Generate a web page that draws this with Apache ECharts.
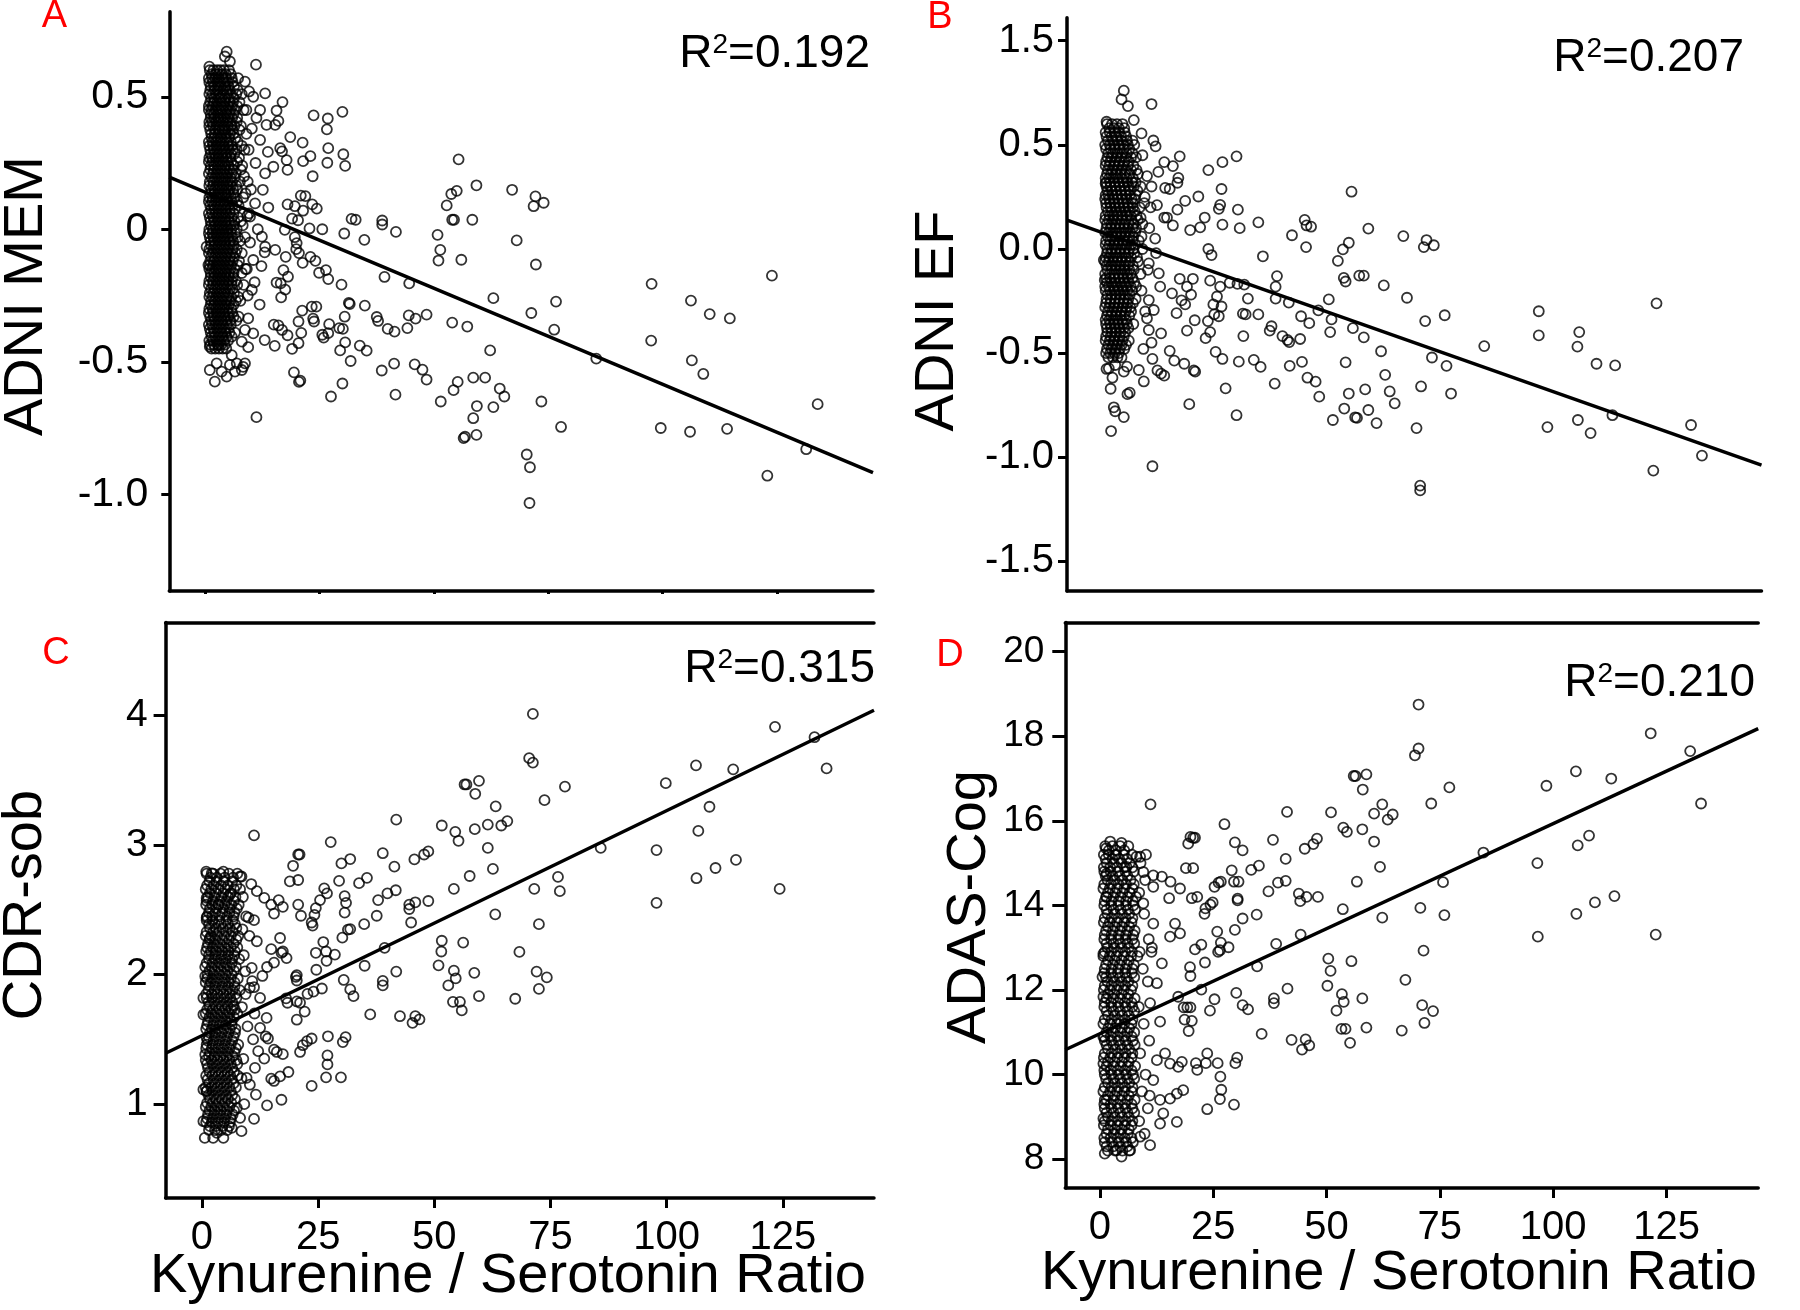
<!DOCTYPE html>
<html><head><meta charset="utf-8">
<script src="https://cdn.jsdelivr.net/npm/echarts@6/dist/echarts.min.js"></script>
<style>html,body{margin:0;padding:0;background:#fff}#c{width:1800px;height:1310px}</style>
</head><body><div id="c"></div>
<script>
// ---------------- DATA ----------------
const xTickVals = [0, 25, 50, 75, 100, 125];
const xTickLabels = ['0', '25', '50', '75', '100', '125'];
const aTickVals = [-1.0, -0.5, 0, 0.5];
const aTickLabels = ['-1.0', '-0.5', '0', '0.5'];
const bTickVals = [-1.5, -1.0, -0.5, 0, 0.5, 1.0];
const bTickLabels = ['-1.5', '-1.0', '-0.5', '0.0', '0.5', '1.5'];
const cTickVals = [1, 2, 3, 4];
const cTickLabels = ['1', '2', '3', '4'];
const dTickVals = [8, 10, 12, 14, 16, 18, 20];
const dTickLabels = ['8', '10', '12', '14', '16', '18', '20'];

const panelLetters = ['A', 'B', 'C', 'D'];
const yTitles = ['ADNI MEM', 'ADNI EF', 'CDR-sob', 'ADAS-Cog'];
const xTitle = 'Kynurenine / Serotonin Ratio';
const r2Values = ['0.192', '0.207', '0.315', '0.210'];

// axis ranges [min, max]
const aXRange = [-7.85, 146.0], aYRange = [-1.365, 0.821];
const bXRange = [-7.6, 145.2], bYRange = [-1.642, 1.11];
const cXRange = [-7.83, 144.6], cYRange = [0.275, 4.72];
const dXRange = [-7.6, 145.2], dYRange = [7.317, 20.69];

// regression lines (end points in data units)
const aFit = [[-7.85, 0.197], [146.0, -0.918]];
const bFit = [[-7.6, 0.1385], [145.2, -1.038]];
const cFit = [[-7.83, 1.393], [144.6, 4.042]];
const dFit = [[-7.6, 10.586], [145.2, 18.18]];

// Panel A: points outside the dense core
const aOuter = [[133.9,-0.66],[131.4,-0.83],[122.9,-0.93],[123.9,-0.175],[114.1,-0.753],[114.7,-0.336],[110.3,-0.32],[108.9,-0.546],[106.4,-0.495],[106.2,-0.269],[106.0,-0.764],[99.6,-0.75],[97.5,-0.42],[97.6,-0.206],[85.5,-0.488],[77.8,-0.746],[76.7,-0.273],[76.3,-0.379],[73.5,-0.65],[74.0,0.1],[72.2,0.124],[71.8,0.087],[72.3,-0.133],[71.3,-0.316],[71.0,-0.898],[70.3,-0.85],[70.9,-1.033],[68.1,-0.042],[67.1,0.149],[65.4,-0.631],[64.4,-0.601],[63.0,-0.671],[62.3,-0.457],[63.0,-0.26],[61.2,-0.56],[59.4,-0.667],[58.6,-0.56],[59.3,0.166],[58.4,0.036],[56.0,-0.115],[55.4,0.264],[55.0,0.145],[53.8,0.133],[54.0,0.036],[54.4,0.036],[52.8,0.09],[57.3,-0.367],[54.0,-0.352],[55.2,-0.576],[54.3,-0.607],[58.6,-0.713],[59.3,-0.776],[56.5,-0.788],[56.8,-0.783],[51.4,-0.078],[51.0,-0.118],[50.8,-0.021],[51.5,-0.65],[48.4,-0.567],[47.5,-0.53],[48.4,-0.322],[45.8,-0.51],[46.0,-0.337],[44.5,-0.325],[44.2,-0.373],[44.6,-0.204],[41.6,-0.624],[41.3,-0.507],[41.4,-0.386],[39.9,-0.376],[38.6,-0.533],[39.2,-0.18],[37.5,-0.331],[37.8,-0.346],[41.7,-0.01],[38.7,0.033],[38.7,0.018],[34.8,-0.04],[34.9,-0.288],[35.3,-0.458],[33.8,-0.439],[31.8,-0.497],[30.0,-0.582],[27.5,-0.631],[31.6,-0.282],[31.4,-0.278],[30.5,-0.33],[30.1,-0.376],[30.6,-0.427],[29.5,-0.457],[29.3,-0.373],[29.8,-0.209],[26.9,-0.188],[26.4,-0.154],[26.9,-0.392],[25.9,-0.409],[27.1,-0.358],[24.3,-0.292],[23.3,-0.292],[23.6,-0.337],[23.8,-0.348],[25.6,-0.398],[21.2,-0.307],[20.4,-0.348],[21.0,-0.391],[20.4,-0.43],[19.0,-0.451],[19.4,-0.54],[20.5,-0.576],[20.8,-0.571],[30.0,0.443],[26.8,0.418],[26.6,0.377],[23.7,0.43],[26.9,0.306],[26.7,0.251],[30.2,0.283],[30.6,0.239],[23.0,0.276],[23.5,0.2],[21.4,0.257],[21.3,0.327],[18.0,0.224],[18.6,0.348],[16.9,0.48],[15.6,0.448],[16.0,0.409],[16.4,0.306],[16.8,0.294],[15.3,0.394],[13.4,0.394],[13.7,0.292],[11.1,0.621],[24.4,0.078],[23.4,0.094],[21.4,0.07],[20.9,0.127],[19.6,0.087],[21.9,0.125],[18.0,0.094],[20.3,0.034],[19.0,0.04],[22.8,0.003],[25.6,0.0],[30.4,-0.016],[32.0,0.039],[32.9,0.036],[19.6,-0.03],[20.0,-0.052],[19.9,-0.075],[20.5,-0.09],[21.3,-0.127],[23.0,-0.104],[24.1,-0.119],[24.9,-0.164],[17.6,-0.104],[17.1,-0.154],[16.5,-0.204],[17.5,-0.228],[18.1,-0.179],[15.6,-0.201],[16.6,-0.257],[15.0,-0.36],[16.0,-0.363],[16.8,-0.38],[15.2,-0.44],[13.0,-0.418],[18.0,-0.4],[11.2,-0.709],[9.4,-0.445],[11.9,-0.284],[12.3,-0.139],[13.0,-0.087],[13.8,0.082],[12.6,0.149],
[4.7,0.67],[4.3,0.652],[5.4,0.633],[0.9,0.614],[8.7,0.557],[13.1,0.513],[12.0,0.337],[17.8,0.261],[14.9,0.236],[13.1,0.211],[10.9,0.098],[9.8,0.048],[17.4,-0.002],[15.3,-0.078],[12.4,-0.028],[13.1,-0.066],[10.5,-0.116],[0.3,-0.066],[0.7,-0.135],[10.2,-0.229],[9.4,-0.336],[8.7,-0.38],[8.0,-0.424],[10.5,-0.393],[1.0,-0.443],[2.9,-0.437],[2.5,-0.506],[1.0,-0.531],[2.1,-0.575],[4.7,-0.556],[3.6,-0.537],[5.8,-0.475],[5.4,-0.512],[6.9,-0.506],[8.3,-0.519],[8.7,-0.506],[8.0,-0.531],[6.5,-0.537],
[9.0,0.45],[10.2,0.38],[9.5,0.3],[11.0,0.25],[8.5,0.2],[10.0,0.15],[9.2,0.05],[11.5,0.0],[9.8,-0.05],[8.8,-0.15],[10.8,-0.2],[9.3,-0.25],[11.2,0.42],[10.5,0.5],[9.6,0.52],[12.0,0.45]];

// Panel A dense core: rows of [y, x1, x2, ...]
const aCoreRows = [
[0.60,1.0,1.8,2.6,3.3,4.1,5.2],[0.57,0.8,1.5,2.2,3.0,3.9,4.6,5.8,7.2],[0.54,1.2,2.0,2.9,3.5,4.4,5.1,6.3],
[0.51,0.9,1.6,2.4,3.2,4.0,4.8,5.6,6.8,8.0],[0.48,1.1,1.9,2.7,3.6,4.3,5.3,6.1,7.5],[0.45,0.8,1.4,2.3,3.1,3.8,4.7,5.5,6.6,8.4],
[0.42,1.2,2.0,2.8,3.4,4.2,5.0,5.9,7.0],[0.39,0.9,1.7,2.5,3.3,4.1,4.9,5.7,6.4,7.8],[0.36,1.3,2.1,2.9,3.7,4.5,5.4,6.2,9.0],
[0.33,0.8,1.6,2.4,3.2,4.0,4.8,5.6,7.1],[0.30,1.1,1.9,2.6,3.5,4.3,5.2,6.0,6.9,8.6],[0.27,0.9,1.5,2.3,3.0,3.9,4.6,5.5,7.4],
[0.24,1.2,2.0,2.8,3.6,4.4,5.1,6.3,8.1],[0.21,0.8,1.7,2.5,3.3,4.1,4.9,5.8,6.7],[0.18,1.0,1.8,2.6,3.4,4.2,5.0,5.9,7.6,9.3],
[0.15,1.3,2.1,2.9,3.7,4.5,5.3,6.1,7.0],[0.12,0.9,1.6,2.4,3.1,3.9,4.7,5.6,6.5,8.3],[0.09,1.1,1.9,2.7,3.5,4.3,5.1,6.0,7.3],
[0.06,0.8,1.5,2.3,3.0,3.8,4.6,5.4,6.2,9.6],[0.03,1.2,2.0,2.8,3.6,4.4,5.2,6.4,7.8],[0.00,0.9,1.7,2.5,3.3,4.1,4.9,5.7,6.9],
[-0.03,1.0,1.8,2.6,3.4,4.2,5.0,5.9,7.1,8.7],[-0.06,1.3,2.1,2.9,3.7,4.5,5.3,6.2],[-0.09,0.8,1.6,2.4,3.2,4.0,4.8,5.6,6.6,8.0],
[-0.12,1.1,1.9,2.7,3.5,4.3,5.1,6.0,7.4],[-0.15,0.9,1.5,2.3,3.1,3.9,4.7,5.5,6.4,9.1],[-0.18,1.2,2.0,2.8,3.6,4.4,5.2,6.1],
[-0.21,0.8,1.7,2.5,3.3,4.1,4.9,5.8,7.0,8.4],[-0.24,1.0,1.8,2.6,3.4,4.2,5.0,6.3],[-0.27,1.3,2.1,2.9,3.7,4.5,5.4,6.7,7.7],
[-0.30,0.9,1.6,2.4,3.2,4.0,4.8,5.7],[-0.33,1.1,1.9,2.7,3.5,4.3,5.1,6.2,7.3],[-0.36,0.8,1.5,2.3,3.1,3.9,4.7,5.6],
[-0.39,1.2,2.0,2.8,3.6,4.4,5.3,6.5],[-0.42,0.9,1.7,2.5,3.3,4.1,5.0],[-0.45,1.4,2.2,3.0,3.8,4.6],
[0.585,1.4,2.3,2.9,3.7,4.5,5.6],[0.555,0.9,1.7,2.6,3.3,4.2,4.9,6.0],[0.525,1.1,2.1,2.7,3.9,4.6,5.4,7.1],
[0.495,1.3,2.0,3.0,3.5,4.4,5.2,6.3],[0.465,0.8,1.6,2.5,3.4,4.1,5.0,5.9,7.0],[0.435,1.2,1.9,2.8,3.6,4.5,5.3,6.2],
[0.405,0.9,1.5,2.4,3.1,3.9,4.7,5.5,6.9],[0.375,1.1,2.2,3.0,3.8,4.3,5.1,6.0,7.5],[0.345,1.4,2.0,2.7,3.5,4.4,5.2,6.6],
[0.315,0.9,1.7,2.5,3.3,4.1,5.0,5.8,8.0],[0.285,1.2,2.1,2.9,3.7,4.6,5.6,6.4],[0.255,0.8,1.6,2.4,3.2,4.0,4.8,5.7,7.0],
[0.225,1.1,1.9,2.7,3.5,4.3,5.3,6.1,7.8],[0.195,1.4,2.2,3.0,3.8,4.6,5.5,6.4],[0.165,0.9,1.7,2.5,3.2,4.0,4.8,5.6,6.8],
[0.135,1.2,2.0,2.8,3.6,4.4,5.1,6.2,8.8],[0.105,0.8,1.5,2.3,3.3,4.1,4.9,5.8,7.0],[0.075,1.3,2.1,2.9,3.7,4.5,5.4,6.5],
[0.045,1.0,1.8,2.6,3.4,4.2,5.0,5.8,7.2],[0.015,1.3,2.2,3.0,3.8,4.6,5.5,6.3,8.2],[-0.015,0.8,1.6,2.4,3.2,4.0,4.8,5.6,6.5],
[-0.045,1.2,2.0,2.8,3.6,4.4,5.3,6.1,7.6],[-0.075,0.9,1.8,2.6,3.4,4.2,5.0,5.9,6.9],[-0.105,1.3,2.1,2.9,3.7,4.5,5.4,6.3],
[-0.135,1.0,1.7,2.5,3.3,4.1,4.9,5.7,7.1],[-0.165,1.2,2.0,2.8,3.6,4.4,5.2,6.2,8.0],[-0.195,0.9,1.7,2.5,3.3,4.1,5.0,5.8,6.7],
[-0.225,1.3,2.1,2.9,3.7,4.5,5.4,6.0],[-0.255,0.9,1.6,2.4,3.2,4.0,4.8,5.7,7.2],[-0.285,1.2,2.0,2.8,3.6,4.4,5.2,6.2],
[-0.315,0.8,1.7,2.5,3.3,4.1,5.0,5.9],[-0.345,1.3,2.1,2.9,3.7,4.5,5.5,6.8],[-0.375,1.0,1.8,2.6,3.4,4.2,5.1],
[-0.405,1.4,2.2,3.0,3.8,4.7,5.8],[-0.435,1.1,1.9,2.7,3.5,4.3]];

// Panel B
const bOuter = [[132.1,-0.992],[129.7,-0.845],[121.4,-1.064],[122.1,-0.261],[112.4,-0.798],[113.0,-0.559],[108.9,-0.551],[107.6,-0.884],[104.8,-0.821],[104.7,-0.469],[105.1,-0.399],[98.1,-0.855],[96.2,-0.415],[96.2,-0.299],[84.2,-0.466],[76.9,-0.694],[75.9,-0.561],[75.5,-0.318],[72.7,-0.521],[71.2,-0.346],[70.3,-0.66],[70.1,-1.136],[70.1,-1.159],[69.3,-0.86],[70.9,0.009],[71.5,0.043],[73.1,0.018],[66.4,0.062],[67.2,-0.234],[64.5,-0.741],[63.4,-0.684],[62.4,-0.604],[61.5,-0.491],[62.1,-0.175],[60.5,-0.836],[58.7,-0.773],[58.0,-0.674],[57.7,-0.424],[55.3,-0.38],[53.7,-0.544],[54.4,-0.694],[53.4,-0.766],[55.8,-0.808],[56.2,-0.811],[50.9,-0.821],[58.7,0.098],[55.0,0.275],[54.4,0.03],[53.1,-0.002],[52.0,-0.057],[53.3,-0.139],[53.7,-0.156],[56.7,-0.128],[57.7,-0.128],[50.0,-0.242],[50.3,-0.399],[50.6,-0.338],[47.7,-0.295],[47.9,-0.709],[47.1,-0.637],[45.3,-0.618],[44.1,-0.542],[45.7,-0.356],[43.9,-0.323],[43.7,-0.432],[45.1,0.113],[46.1,0.107],[44.7,0.14],[41.9,0.066],[45.0,0.009],[41.2,-0.257],[40.9,-0.437],[41.3,-0.447],[39.8,-0.418],[41.4,-0.561],[38.1,-0.646],[37.4,-0.371],[37.0,-0.392],[38.3,-0.238],[38.3,-0.181],[38.6,-0.13],[35.5,-0.035],[34.5,-0.314],[35.0,-0.566],[33.5,-0.532],[34.5,0.128],[31.4,-0.171],[32.2,-0.238],[31.1,-0.31],[31.7,-0.314],[31.2,-0.418],[30.2,-0.541],[30.4,0.1],[30.0,0.189],[29.7,0.445],[26.6,0.417],[26.4,0.288],[26.1,0.212],[25.8,0.193],[26.6,0.117],[23.5,0.379],[21.3,0.252],[22.7,0.151],[21.7,0.104],[24.2,-0.029],[23.5,0.0],[23.9,-0.152],[25.4,-0.228],[26.1,-0.181],[28.2,-0.162],[29.9,-0.167],[24.6,-0.266],[25.8,-0.323],[26.4,-0.276],[24.8,-0.314],[23.4,-0.346],[22.9,-0.428],[23.9,-0.399],[26.6,-0.528],[25.1,-0.494],[27.3,-0.669],[29.7,-0.798],[19.3,-0.745],[20.6,-0.589],[20.3,-0.583],[18.2,-0.551],[16.0,-0.536],[15.0,-0.489],[18.8,-0.392],[20.5,-0.342],[18.4,-0.266],[17.6,-0.247],[19.7,-0.219],[18.8,-0.181],[20.1,-0.143],[17.2,-0.143],[16.5,-0.308],[16.9,0.341],[17.2,0.445],[15.7,0.398],[16.7,0.318],[14.0,0.293],[15.0,0.288],[18.4,0.231],[16.7,0.189],[14.4,0.151],[15.7,0.113],[13.8,0.151],[13.8,0.417],[11.9,0.493],[11.4,0.521],[11.0,0.696],[13.1,-0.598],[13.8,-0.608],[11.2,-1.043],[12.3,-0.583],[11.2,-0.528],[9.3,-0.636],[6.2,-0.69],[5.7,-0.697],[4.9,-0.807],[3.0,-0.779],[2.7,-0.76],[2.1,-0.874],[2.0,-0.671],[1.1,-0.576],[2.4,-0.618],
[4.9,0.76],[4.4,0.718],[5.8,0.686],[1.1,0.611],[7.1,0.619],[8.8,0.555],[0.9,0.315],[0.9,0.259],[0.5,-0.053],[0.7,-0.149],[12.2,0.211],[19.5,0.091],[12.6,-0.117],[10.4,-0.069],[12.9,-0.181],[15.5,-0.213],[10.4,-0.245],[11.5,-0.293],[10.0,-0.333],[10.4,-0.389],[13.1,-0.405],[8.2,-0.581],[5.6,-0.565],[4.9,-0.589],[3.0,-0.557],[1.6,-0.573],
[9.0,0.45],[10.0,0.35],[9.5,0.25],[11.0,0.3],[8.6,0.15],[10.5,0.1],[9.0,0.0],[11.8,0.05],[10.2,-0.1],[8.8,-0.2],[9.6,-0.3],[11.0,-0.45],[9.2,-0.48],[12.5,0.37],[10.8,0.2],[12.0,-0.02]];

const bCoreRows = [
[0.60,1.2,2.3,3.4,4.6],[0.56,0.9,1.8,2.9,3.9,5.1],[0.52,1.4,2.5,3.5,4.4,5.6,6.8],[0.48,1.0,2.0,3.0,4.0,4.9,6.1],
[0.44,1.3,2.2,3.3,4.3,5.3,6.5,7.6],[0.40,0.9,1.7,2.7,3.7,4.7,5.8,7.0],[0.36,1.2,2.1,3.1,4.1,5.1,6.2,8.0],
[0.32,1.0,1.9,2.8,3.8,4.8,5.7,6.7,7.5],[0.28,1.3,2.3,3.2,4.2,5.2,6.3,7.9],[0.24,0.8,1.7,2.6,3.6,4.5,5.5,6.6,7.2],
[0.20,1.1,2.0,3.0,3.9,4.9,5.9,6.9,8.4],[0.16,0.9,1.8,2.7,3.6,4.6,5.6,6.4,7.7],[0.12,1.2,2.2,3.1,4.0,5.0,6.0,7.1,9.0],
[0.08,0.8,1.6,2.5,3.4,4.4,5.3,6.3,7.4],[0.04,1.0,1.9,2.9,3.8,4.7,5.7,6.8,8.2],[0.00,1.3,2.3,3.2,4.2,5.1,6.1,7.0],
[-0.04,0.9,1.7,2.6,3.5,4.5,5.4,6.5,7.8],[-0.08,1.1,2.1,3.0,3.9,4.9,5.8,6.9],[-0.12,0.8,1.8,2.8,3.7,4.6,5.6,6.4,8.6],
[-0.16,1.2,2.2,3.1,4.1,5.0,6.0,7.2],[-0.20,0.9,1.9,2.9,3.8,4.8,5.7,6.7],[-0.24,1.1,2.0,3.0,4.0,4.9,5.9,7.5],
[-0.28,0.8,1.7,2.7,3.6,4.6,5.5,6.3],[-0.32,1.2,2.1,3.1,4.1,5.0,6.1],[-0.36,1.0,1.9,2.8,3.7,4.7,5.6,7.0],
[-0.40,1.3,2.3,3.2,4.2,5.2],[-0.44,0.9,1.8,2.7,3.6,4.6,6.0],[-0.48,1.2,2.2,3.1,4.0,5.0],[-0.52,1.5,2.5,3.5,4.4],
[0.58,1.7,2.7,3.8,5.0],[0.54,1.1,2.2,3.2,4.3,5.4],[0.50,0.8,1.8,2.8,3.8,4.8,5.8,7.2],[0.46,1.5,2.5,3.5,4.5,5.5,6.8],
[0.42,1.0,1.9,2.9,3.9,5.0,6.0],[0.38,1.4,2.4,3.4,4.4,5.4,6.5,7.7],[0.34,0.9,1.7,2.6,3.5,4.5,5.5,6.9],
[0.30,1.1,2.0,3.0,4.0,5.0,6.0,7.1,8.6],[0.26,1.5,2.4,3.4,4.4,5.3,6.2,7.5],[0.22,1.0,1.9,2.9,3.8,4.8,5.8,6.9,9.4],
[0.18,1.4,2.3,3.3,4.3,5.2,6.1,7.3],[0.14,0.8,1.6,2.5,3.4,4.4,5.4,6.6,8.0],[0.10,1.1,2.0,3.0,3.9,4.9,5.8,6.8,7.6],
[0.06,1.4,2.3,3.2,4.1,5.1,6.0,7.0,8.8],[0.02,0.9,1.7,2.7,3.6,4.6,5.5,6.5,7.4],[-0.02,1.2,2.1,3.1,4.0,5.0,5.9,7.2],
[-0.06,0.8,1.6,2.5,3.4,4.3,5.3,6.2,8.0],[-0.10,1.3,2.3,3.2,4.2,5.1,6.1,7.1],[-0.14,1.0,1.9,2.9,3.8,4.8,5.8,6.8],
[-0.18,0.8,1.6,2.6,3.5,4.5,5.4,6.4,7.6],[-0.22,1.3,2.3,3.2,4.2,5.2,6.2],[-0.26,1.0,1.9,2.9,3.8,4.8,5.7,6.9],
[-0.30,1.4,2.3,3.3,4.3,5.3,6.5],[-0.34,0.9,1.7,2.6,3.5,4.5,5.4],[-0.38,1.2,2.1,3.0,4.0,4.9,5.9],
[-0.42,1.0,2.0,2.9,3.9,4.9],[-0.46,1.5,2.5,3.4,4.4,5.4],[-0.50,1.0,1.9,2.9,3.8]];

// Panel C
const cOuter = [[134.4,3.593],[131.8,3.834],[123.3,3.914],[124.3,2.662],[114.3,3.586],[114.9,2.886],[110.5,2.824],[109.2,3.297],[106.3,3.617],[106.8,3.11],[106.4,2.745],[99.8,3.479],[97.8,2.962],[97.8,2.555],[85.8,2.979],[78.1,3.452],[77.0,2.645],[76.6,2.755],[73.7,3.348],[72.5,2.39],[71.5,2.662],[72.0,2.024],[72.5,1.89],[74.2,1.979],[71.2,4.014],[70.4,3.672],[71.2,3.638],[68.3,2.176],[67.4,1.814],[65.7,3.186],[64.4,3.152],[63.2,3.3],[63.1,2.466],[62.6,2.817],[61.5,3.159],[61.5,2.979],[59.6,3.497],[56.9,3.469],[56.5,3.469],[58.8,3.397],[58.7,3.124],[57.6,2.762],[58.6,2.014],[59.6,1.834],[56.2,2.248],[55.2,3.034],[54.5,3.103],[54.2,2.662],[54.6,1.972],[54.2,2.031],[53.0,1.917],[54.0,1.79],[55.5,1.79],[55.9,1.724],[51.6,3.152],[51.6,2.262],[51.5,2.179],[50.9,2.072],[48.7,2.952],[47.8,2.928],[48.7,2.569],[45.7,2.89],[45.9,2.559],[44.6,2.541],[45.0,2.403],[44.6,2.507],[45.3,1.628],[46.8,1.655],[45.9,1.679],[42.6,1.679],[41.8,3.197],[41.4,2.834],[41.7,2.652],[39.9,2.628],[41.8,2.024],[39.3,2.207],[38.9,2.938],[38.9,1.952],[38.9,1.917],[37.9,2.576],[37.6,2.455],[36.2,1.693],[35.5,2.748],[34.9,2.39],[33.8,2.707],[35.0,2.069],[32.6,1.834],[31.9,1.886],[30.5,1.959],[31.9,2.893],[30.0,2.859],[29.5,2.724],[30.7,2.607],[31.0,2.555],[30.7,2.479],[31.9,2.352],[31.4,2.348],[30.2,2.286],[30.9,1.517],[30.3,1.479],[29.9,1.207],[27.7,3.024],[28.6,2.155],[26.7,2.179],[26.8,2.107],[26.3,2.666],[26.9,2.628],[26.1,2.252],[25.8,1.893],[27.1,1.524],[27.0,1.376],[27.0,1.307],[26.7,1.207],[24.5,2.169],[24.5,2.514],[25.4,2.576],[24.2,2.462],[23.8,2.379],[23.6,2.403],[24.0,1.869],[22.7,1.852],[23.6,1.507],[22.6,1.486],[23.6,1.141],[24.6,2.038],[21.3,2.455],[20.7,2.541],[20.7,2.928],[21.0,2.928],[20.7,2.731],[19.6,2.841],[18.9,2.721],[20.4,1.793],[20.4,1.652],[21.1,1.783],[22.1,1.714],[20.2,1.983],[20.4,1.955],[20.4,1.997],[21.7,1.455],[21.1,1.403],[18.6,1.248],[17.1,1.034],[16.8,1.214],[18.4,1.783],[18.1,1.817],[18.2,2.128],[17.4,2.179],[16.8,2.283],[17.1,2.169],[17.4,2.524],[16.5,2.576],[14.9,2.541],[15.5,2.472],[13.4,2.593],[11.2,3.076],[11.8,2.645],[11.2,2.421],[14.9,2.197],[15.5,2.093],[14.0,2.059],[13.0,1.99],[11.2,1.903],[13.7,1.524],[14.2,1.507],[13.4,1.352],[15.5,1.421],[16.1,1.403],[17.4,1.386],[14.9,1.197],[15.5,1.179],[14.0,0.99],[11.2,0.886],
[0.9,2.796],[2.1,2.783],[4.6,2.796],[8.2,2.758],[8.5,2.758],[1.0,2.593],[3.5,2.542],[6.0,2.619],[10.0,2.44],[1.0,2.44],[1.7,2.284],[0.7,1.988],[0.3,1.82],[0.3,1.692],[11.8,2.258],[10.7,2.052],[9.3,2.026],[10.3,1.898],[12.5,1.82],[13.9,1.666],[12.5,1.589],[12.1,1.409],[11.4,1.28],[9.6,1.203],[11.6,1.074],[8.5,0.791],[6.4,0.817],[4.6,0.739],[2.4,0.739],[0.6,0.739],[0.3,0.868],[1.0,1.1],[0.7,1.383],[0.3,1.113],[1.0,1.512],[3.2,0.778],[8.2,0.894],[7.5,0.971],
[8.8,2.6],[9.5,2.45],[10.2,2.3],[9.0,2.15],[10.8,1.95],[8.6,1.75],[9.8,1.6],[11.0,1.5],[8.9,1.35],[10.3,1.15],[9.1,1.0],[8.7,2.35],[10.6,2.7],[9.4,1.85],[11.3,1.7],[8.5,1.2]];

const cCoreRows = [
[2.78,1.0,2.4,4.0,5.8,7.6],[2.72,1.6,3.1,4.7,6.5],[2.66,0.8,2.0,3.5,5.0,6.9,8.2],[2.60,1.3,2.7,4.2,5.6,7.2],
[2.54,0.9,2.2,3.6,4.9,6.3,7.9],[2.48,1.5,2.9,4.4,5.9,7.0],[2.42,1.0,2.3,3.7,5.2,6.6],[2.36,1.7,3.0,4.5,6.0,7.4],
[2.30,0.8,2.0,3.3,4.8,6.2,7.8],[2.24,1.3,2.6,3.9,5.3,6.8],[2.18,0.9,1.9,3.1,4.4,5.7,7.1],[2.12,1.5,2.7,4.0,5.2,6.5,8.0],
[2.06,0.7,2.1,3.4,4.7,6.0,7.3],[2.00,1.2,2.5,3.8,5.1,6.4],[1.94,0.8,1.9,3.2,4.5,5.8,7.0],[1.88,1.4,2.7,4.0,5.3,6.6,8.1],
[1.82,1.0,2.2,3.5,4.8,6.1,7.4],[1.76,1.6,2.9,4.2,5.5,6.8],[1.70,0.8,2.0,3.3,4.6,5.9,7.6],[1.64,1.3,2.6,3.9,5.2,6.4],
[1.58,0.9,2.1,3.4,4.7,6.0,7.2],[1.52,1.5,2.8,4.1,5.4,6.8],[1.46,1.0,2.3,3.6,4.9,6.2,7.8],[1.40,1.7,3.0,4.3,5.6,7.0],
[1.34,0.8,2.0,3.3,4.6,5.9,7.4],[1.28,1.3,2.6,3.9,5.2,6.5],[1.22,0.9,2.2,3.5,4.8,6.1,7.7],[1.16,1.5,2.8,4.1,5.4,6.8],
[1.10,1.0,2.3,3.6,4.9,6.2],[1.04,1.7,3.0,4.3,5.6,7.1],[0.98,0.8,2.0,3.3,4.6,5.9],[0.92,1.3,2.6,3.9,5.2,6.6],
[0.86,0.9,2.1,3.4,4.7,6.0],[0.80,1.5,2.8,4.1,5.4],
[2.75,1.8,3.2,4.9,6.7],[2.69,1.1,2.5,4.1,5.6,7.4],[2.63,1.7,3.0,4.6,6.2],[2.57,1.0,2.4,3.9,5.3,6.9],
[2.51,1.7,3.1,4.6,6.0,7.5],[2.45,1.1,2.2,3.8,5.4,6.8],[2.39,1.5,2.8,4.1,5.6,7.1],[2.33,1.0,2.4,3.7,5.2,6.6],
[2.27,1.6,2.9,4.4,5.8,7.4],[2.21,1.1,2.3,3.6,4.9,6.2,7.6],[2.15,1.5,2.9,4.2,5.6,6.9],[2.09,1.0,2.3,3.7,5.0,6.4],
[2.03,1.6,2.8,4.1,5.5,6.9],[1.97,1.1,2.2,3.5,4.8,6.2,7.7],[1.91,1.6,2.9,4.3,5.6,7.0],[1.85,0.9,2.1,3.3,4.6,5.9,7.2],
[1.79,1.4,2.6,3.9,5.2,6.5],[1.73,1.1,2.3,3.7,5.0,6.3,7.1],[1.67,1.6,2.9,4.2,5.5,6.9],[1.61,1.1,2.4,3.7,5.0,6.4],
[1.55,1.7,3.0,4.3,5.7,7.1],[1.49,1.2,2.5,3.8,5.1,6.5],[1.43,0.9,2.1,3.4,4.6,5.9,7.3],[1.37,1.5,2.7,4.0,5.3,6.6],
[1.31,1.1,2.3,3.6,4.9,6.2,7.6],[1.25,1.6,2.9,4.2,5.5,6.9],[1.19,1.2,2.5,3.8,5.1,6.4],[1.13,0.8,2.0,3.3,4.6,5.9,7.3],
[1.07,1.4,2.6,3.9,5.2,6.5],[1.01,1.1,2.3,3.6,4.9,6.3],[0.95,1.6,2.8,4.1,5.4,6.9],[0.89,1.1,2.3,3.6,4.9,6.2],
[0.83,1.7,3.0,4.4,5.8]];

// Panel D
const dOuter = [[132.6,16.41],[130.2,17.65],[121.5,18.07],[122.6,13.31],[112.8,17.0],[113.5,14.22],[109.2,14.07],[107.9,15.65],[105.4,15.42],[105.0,17.17],[105.1,13.8],[98.5,16.83],[96.5,15.0],[96.6,13.26],[84.6,15.25],[77.1,16.79],[76.0,13.77],[75.7,14.55],[73.1,16.41],[73.5,11.5],[71.6,11.22],[71.1,11.64],[71.4,12.93],[70.7,13.94],[70.3,18.75],[70.3,17.71],[69.5,17.55],[67.4,12.24],[66.6,11.04],[64.6,16.15],[63.5,16.03],[62.3,16.39],[62.3,13.71],[61.8,14.91],[60.5,15.51],[60.5,16.17],[58.8,17.1],[56.0,17.06],[56.4,17.06],[58.0,16.74],[57.9,15.8],[56.7,14.56],[58.8,11.11],[57.9,11.8],[55.2,10.75],[55.5,12.68],[53.6,13.91],[54.5,15.74],[53.7,15.84],[53.3,11.08],[54.2,11.08],[53.8,11.72],[53.4,11.9],[52.2,11.51],[50.9,12.45],[50.4,12.74],[50.2,12.1],[51.0,16.2],[47.9,15.58],[47.1,15.45],[45.2,15.34],[48.1,14.2],[45.6,14.2],[43.9,14.28],[44.2,14.1],[44.3,13.31],[46.2,10.69],[45.4,10.83],[44.6,10.59],[42.3,10.82],[41.3,16.21],[41.0,15.1],[41.0,14.58],[41.4,12.03],[39.3,14.54],[38.2,15.55],[38.9,13.09],[38.4,11.8],[38.4,11.69],[37.2,14.33],[35.7,10.96],[35.1,14.94],[34.6,13.78],[33.4,14.84],[34.7,12.56],[32.7,11.54],[31.5,11.64],[31.5,13.69],[31.5,15.3],[30.4,14.16],[30.4,14.12],[29.6,14.56],[30.6,14.56],[29.1,14.83],[29.8,15.49],[29.8,13.42],[30.1,11.93],[29.9,10.27],[30.3,10.4],[29.6,9.29],[28.4,13.01],[27.5,15.92],[26.5,12.94],[26.1,12.9],[26.7,13.12],[25.9,13.38],[26.7,14.56],[26.2,14.54],[25.3,14.44],[24.9,14.07],[24.4,14.02],[23.1,13.8],[23.3,13.93],[22.4,13.07],[23.2,12.65],[25.3,11.78],[24.3,11.51],[26.6,9.95],[26.8,9.64],[26.5,9.42],[26.0,10.27],[23.7,10.5],[23.4,10.27],[23.7,9.18],[21.5,10.11],[21.2,10.27],[22.4,12.01],[21.0,12.96],[21.5,14.2],[20.6,15.6],[21.0,15.6],[20.0,15.62],[19.5,15.46],[19.0,14.88],[20.6,14.88],[20.3,14.17],[20.0,11.59],[19.9,12.54],[19.3,11.59],[20.3,11.27],[19.6,11.03],[18.7,11.3],[18.5,11.59],[20.0,12.33],
[11.2,16.39],[1.4,15.35],[2.3,15.51],[4.8,15.48],[3.4,15.19],[8.1,15.15],[8.9,15.15],[1.5,14.75],[5.9,14.91],[9.6,14.79],[11.8,14.71],[13.7,14.68],[15.6,14.56],[17.7,14.4],[15.3,14.17],[11.8,14.44],[9.6,14.05],[1.5,14.2],[0.8,12.86],[0.6,12.31],[0.8,11.84],[11.8,13.57],[16.6,13.57],[17.7,13.34],[15.5,13.26],[11.4,12.9],[13.7,12.63],[12.6,12.16],[11.1,11.69],[13.3,11.25],[17.3,11.84],[14.4,10.5],[12.6,10.34],[15.5,10.26],[17.3,10.18],[18.1,10.3],[11.8,9.87],[13.3,9.4],[15.5,9.43],[17.0,9.55],[18.4,9.63],[14.0,9.08],[17.0,8.88],[13.3,8.84],[11.1,8.33],[8.9,8.53],[6.7,8.21],[4.8,8.06],[1.1,8.13],[3.7,8.21],[0.8,8.96],[1.1,9.4],[0.8,10.26],[0.8,10.89],
[9.0,15.0],[10.0,14.6],[8.7,14.3],[9.8,13.8],[10.8,13.2],[8.8,12.9],[9.5,12.5],[10.6,12.2],[8.6,11.6],[9.7,11.2],[10.9,10.8],[8.9,10.5],[10.1,10.0],[9.3,9.6],[10.6,9.2],[8.7,8.9],[9.9,8.6],[11.5,13.0],[11.0,9.5],[10.2,15.2]];

const dCoreRows = [
[15.4,1.2,2.8,4.5,6.3],[15.2,0.9,2.0,3.6,5.3,7.1],[15.0,1.5,3.1,4.8,6.6],[14.8,1.0,2.4,4.0,5.7,7.5],
[14.6,1.7,3.3,5.0,6.8],[14.4,0.8,2.2,3.8,5.4,7.2],[14.2,1.4,3.0,4.6,6.2,8.0],[14.0,1.0,2.5,4.1,5.8,7.4],
[13.8,1.7,3.3,4.9,6.5],[13.6,0.9,2.2,3.8,5.4,7.0],[13.4,1.4,2.9,4.5,6.1,7.7],[13.2,1.0,2.5,4.1,5.7,7.2],
[13.0,1.7,3.2,4.8,6.4],[12.8,0.8,2.2,3.7,5.3,6.9,8.3],[12.6,1.4,2.9,4.4,6.0,7.5],[12.4,1.0,2.5,4.0,5.6,7.1],
[12.2,1.7,3.2,4.8,6.3],[12.0,0.9,2.3,3.8,5.3,6.9],[11.8,1.5,3.0,4.5,6.1,7.7],[11.6,1.0,2.6,4.1,5.7,7.2],
[11.4,1.8,3.3,4.9,6.4],[11.2,0.8,2.3,3.8,5.4,7.0],[11.0,1.5,3.0,4.6,6.1,7.6],[10.8,1.1,2.6,4.2,5.7,7.3],
[10.6,1.8,3.4,4.9,6.5],[10.4,0.9,2.3,3.9,5.4,7.0],[10.2,1.5,3.1,4.6,6.2,7.8],[10.0,1.1,2.6,4.2,5.8,7.3],
[9.8,1.8,3.3,4.9,6.5],[9.6,0.8,2.3,3.8,5.4,7.0],[9.4,1.5,3.0,4.6,6.1,7.7],[9.2,1.1,2.6,4.1,5.7,7.2],
[9.0,1.8,3.3,4.9,6.4],[8.8,0.9,2.4,3.9,5.5,7.0],[8.6,1.5,3.1,4.6,6.2],[8.4,1.1,2.7,4.2,5.8,7.3],[8.2,1.8,3.4,5.0,6.5],
[15.3,2.0,3.6,5.4],[15.1,1.3,2.8,4.3,6.0],[14.9,0.9,2.3,3.8,5.5,7.2],[14.7,1.3,2.8,4.4,6.1],
[14.5,1.0,2.5,4.1,5.8,7.5],[14.3,1.8,3.4,5.0,6.6],[14.1,1.1,2.6,4.2,5.8,7.3],[13.9,1.5,3.0,4.6,6.2,7.8],
[13.7,1.1,2.6,4.1,5.7,7.2],[13.5,1.8,3.3,4.9,6.5],[13.3,1.1,2.6,4.2,5.8,7.4],[13.1,1.5,3.0,4.5,6.1,7.6],
[12.9,1.1,2.5,4.0,5.6,7.1],[12.7,1.8,3.3,4.8,6.4],[12.5,1.1,2.6,4.1,5.7,7.2],[12.3,1.4,2.9,4.4,5.9,7.6],
[12.1,1.1,2.6,4.1,5.6,7.2],[11.9,1.8,3.2,4.8,6.3],[11.7,1.1,2.5,4.0,5.5,7.0],[11.5,1.5,3.0,4.5,6.1,7.6],
[11.3,1.1,2.6,4.1,5.6,7.2],[11.1,1.9,3.4,4.9,6.5],[10.9,1.0,2.4,3.9,5.4,7.0],[10.7,1.5,3.0,4.5,6.1,7.7],
[10.5,1.1,2.6,4.1,5.7,7.2],[10.3,1.8,3.3,4.9,6.4],[10.1,1.0,2.4,3.9,5.5,7.0],[9.9,1.4,3.0,4.5,6.1,7.6],
[9.7,1.1,2.6,4.1,5.6,7.2],[9.5,1.8,3.3,4.9,6.4],[9.3,1.0,2.4,3.9,5.5,7.0],[9.1,1.5,3.0,4.5,6.1,7.6],
[8.9,1.1,2.6,4.1,5.7,7.2],[8.7,1.8,3.3,4.8,6.4],[8.5,1.0,2.4,3.9,5.5,7.0],[8.3,1.5,3.0,4.5,6.1]];

// ---------------- BUILD ----------------
function rowsToPairs(rows) {
  const out = [];
  rows.forEach(r => { for (let i = 1; i < r.length; i++) out.push([r[i], r[0]]); });
  return out;
}
function lookup(vals, labels) {
  return v => { for (let i = 0; i < vals.length; i++) if (Math.abs(vals[i] - v) < 1e-9) return labels[i]; return ''; };
}
const FONT = '"Liberation Sans", Arial, Helvetica, sans-serif';
const AX = {color: '#000', width: 3.5};

const grids = [
  {left: 169.3, top: 11.7, width: 703.7, height: 579.3},
  {left: 1067, top: 17.8, width: 694.5, height: 573.2},
  {left: 165.6, top: 622.5, width: 708.4, height: 575.5},
  {left: 1065.3, top: 622.5, width: 692.9, height: 565.5}
];

function xAxisDef(gi, range, tickLen, showTicks, showLabels) {
  return {
    type: 'value', gridIndex: gi, min: range[0], max: range[1], position: 'bottom',
    axisLine: {show: true, onZero: false, lineStyle: AX},
    axisTick: {show: showTicks, length: tickLen, customValues: xTickVals, lineStyle: {color: '#000', width: 3}},
    axisLabel: {show: showLabels, customValues: xTickVals, formatter: lookup(xTickVals, xTickLabels),
      margin: 20, fontSize: 40, color: '#000', fontFamily: FONT},
    splitLine: {show: false}
  };
}
function topAxisDef(gi, range) {
  return {type: 'value', gridIndex: gi, min: range[0], max: range[1], position: 'top',
    axisLine: {show: true, onZero: false, lineStyle: AX}, axisTick: {show: false},
    axisLabel: {show: false}, splitLine: {show: false}};
}
function yAxisDef(gi, range, vals, labels, tickLen, margin, fs) {
  return {
    type: 'value', gridIndex: gi, min: range[0], max: range[1], position: 'left',
    axisLine: {show: true, onZero: false, lineStyle: AX},
    axisTick: {show: true, length: tickLen, customValues: vals, lineStyle: {color: '#000', width: 3}},
    axisLabel: {show: true, customValues: vals, formatter: lookup(vals, labels), margin: margin,
      fontSize: fs, color: '#000', fontFamily: FONT},
    splitLine: {show: false}
  };
}

const scatterStyle = {color: 'rgba(0,0,0,0)', borderColor: '#000', borderWidth: 1.8};
function scatterSeries(i, data) {
  return {type: 'scatter', xAxisIndex: i, yAxisIndex: i, data: data, symbol: 'circle', symbolSize: 10,
    itemStyle: scatterStyle, silent: true, large: false, progressive: 0};
}
function fitSeries(i, data) {
  return {type: 'line', xAxisIndex: i, yAxisIndex: i, data: data, symbol: 'none', silent: true,
    lineStyle: {color: '#000', width: 3.5}, z: 5};
}

const letterPos = [[54.5, 17], [940, 18], [56, 654], [950, 656]];
const yTitlePos = [[27, 296], [938, 321], [26, 905], [970, 907]];
const r2Pos = [[870, 54], [1744, 58], [875, 669], [1755, 683]];
const xTitlePos = [[508, 1277], [1399, 1274]];

const graphics = [];
panelLetters.forEach((t, i) => graphics.push({type: 'text', x: letterPos[i][0], y: letterPos[i][1],
  style: {text: t, fill: '#ff0000', font: '38px ' + FONT, textAlign: 'center', textVerticalAlign: 'middle'}}));
yTitles.forEach((t, i) => graphics.push({type: 'text', x: yTitlePos[i][0], y: yTitlePos[i][1], rotation: Math.PI / 2,
  style: {text: t, fill: '#000', font: '56px ' + FONT, textAlign: 'center', textVerticalAlign: 'middle'}}));
r2Values.forEach((t, i) => graphics.push({type: 'text', x: r2Pos[i][0], y: r2Pos[i][1],
  style: {text: 'R{s|2}=' + t, fill: '#000', font: '46px ' + FONT, textAlign: 'right', textVerticalAlign: 'middle',
    rich: {s: {fontSize: 28, fontFamily: FONT, verticalAlign: 'top', fill: '#000'}}}}));
xTitlePos.forEach(p => graphics.push({type: 'text', x: p[0], y: p[1],
  style: {text: xTitle, fill: '#000', font: '56px ' + FONT, textAlign: 'center', textVerticalAlign: 'middle'}}));

const option = {
  animation: false,
  backgroundColor: '#fff',
  grid: grids,
  xAxis: [
    xAxisDef(0, aXRange, 3, true, false),
    xAxisDef(1, bXRange, 0, false, false),
    xAxisDef(2, cXRange, 10, true, true),
    xAxisDef(3, dXRange, 10, true, true),
    topAxisDef(2, cXRange),
    topAxisDef(3, dXRange)
  ],
  yAxis: [
    yAxisDef(0, aYRange, aTickVals, aTickLabels, 8, 21, 41),
    yAxisDef(1, bYRange, bTickVals, bTickLabels, 9, 13, 40),
    yAxisDef(2, cYRange, cTickVals, cTickLabels, 12, 18, 39),
    yAxisDef(3, dYRange, dTickVals, dTickLabels, 13, 21, 37)
  ],
  series: [
    scatterSeries(0, aOuter.concat(rowsToPairs(aCoreRows))),
    scatterSeries(1, bOuter.concat(rowsToPairs(bCoreRows))),
    scatterSeries(2, cOuter.concat(rowsToPairs(cCoreRows))),
    scatterSeries(3, dOuter.concat(rowsToPairs(dCoreRows))),
    fitSeries(0, aFit), fitSeries(1, bFit), fitSeries(2, cFit), fitSeries(3, dFit)
  ],
  graphic: graphics
};

const chart = echarts.init(document.getElementById('c'), null, {renderer: 'canvas', width: 1800, height: 1310});
chart.setOption(option);
</script></body></html>
